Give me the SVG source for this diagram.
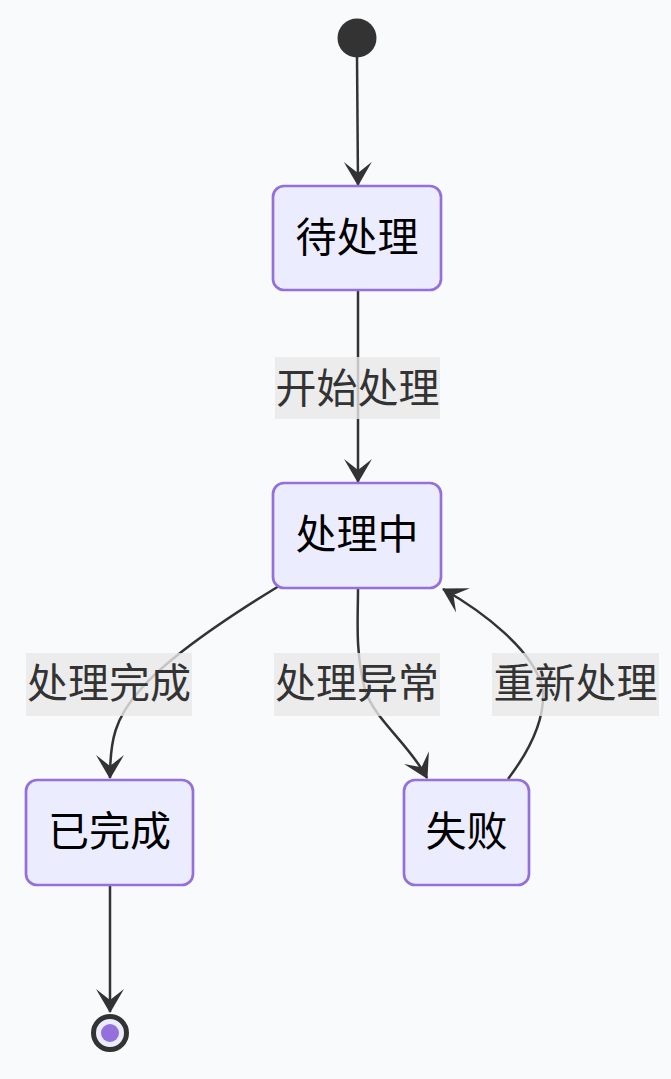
<svg xmlns="http://www.w3.org/2000/svg" width="671" height="1079" viewBox="0 0 671 1079">
<defs>
<style>
.node rect{fill:#ECECFF;stroke:#9370DB;stroke-width:2.7}
.node text{font-family:"Noto Sans CJK SC","Noto Sans",sans-serif;font-size:41px;fill:#000;text-anchor:middle}
.edge{fill:none;stroke:#333;stroke-width:2.5;marker-end:url(#arrow)}
.lbl rect{fill:#e8e8e8;fill-opacity:0.8}
.lbl text{font-family:"Noto Sans CJK SC","Noto Sans",sans-serif;font-size:41px;fill:#333;text-anchor:middle}
</style>
<marker id="arrow" viewBox="0 0 24 30" markerWidth="24" markerHeight="30" markerUnits="userSpaceOnUse" refX="23" refY="15" orient="auto">
<path d="M0,1 L24,15 L0,29 L11,15 Z" fill="#333"/>
</marker>
</defs>
<rect width="671" height="1079" fill="#f9fafc"/>
<g id="connectors">
<path class="edge" d="M357,57 L358,185"/>
<path class="edge" d="M358,291 L358,482"/>
<path class="edge" d="M279,586 C230,616 170,655 140,690 C115,718 110,740 110,778"/>
<path class="edge" d="M358,589 C358,620 355,650 365,690 C375,720 410,745 427,778"/>
<path class="edge" d="M508,779 C530,750 545,720 543,690 C535,650 480,610 443,589"/>
<path class="edge" d="M110,886 L110,1012"/>
</g>
<g id="labels">
<g class="lbl" id="label-start"><rect x="275" y="357" width="165" height="62"/><text x="357.5" y="403">开始处理</text></g>
<g class="lbl" id="label-done"><rect x="26" y="653" width="166" height="63"/><text x="109" y="698">处理完成</text></g>
<g class="lbl" id="label-err"><rect x="274" y="653" width="166" height="63"/><text x="357" y="698">处理异常</text></g>
<g class="lbl" id="label-retry"><rect x="492" y="653" width="167" height="63"/><text x="575.5" y="698">重新处理</text></g>
</g>
<g id="start"><circle cx="357" cy="38" r="19.5" fill="#333"/></g>
<g id="pending" class="node"><rect x="273" y="186" width="168" height="104" rx="11"/><text x="357" y="252">待处理</text></g>
<g id="processing" class="node"><rect x="273" y="483" width="168" height="105" rx="11"/><text x="357" y="549">处理中</text></g>
<g id="completed" class="node"><rect x="26" y="780" width="167" height="105" rx="11"/><text x="109.5" y="846">已完成</text></g>
<g id="failed" class="node"><rect x="404" y="780" width="125" height="105" rx="11"/><text x="466.5" y="846">失败</text></g>
<g id="end"><circle cx="110" cy="1033" r="16.5" fill="#ECECFF" stroke="#333" stroke-width="5"/><circle cx="110" cy="1033" r="9" fill="#9370DB"/></g>
</svg>
